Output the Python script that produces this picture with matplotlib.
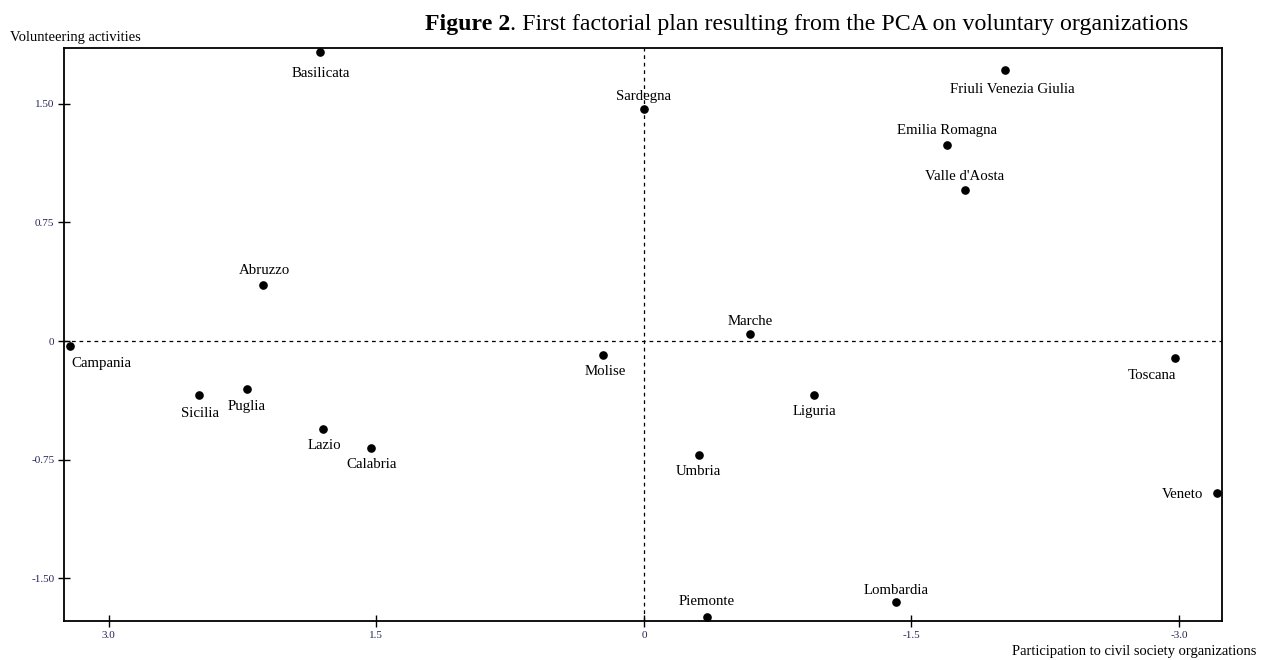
# -*- coding: utf-8 -*-
"""
First factorial plan of the PCA on voluntary organizations (Italian regions).
"""

# --IMPORTS---
import matplotlib
matplotlib.use('Agg')
import matplotlib.pyplot as plt

# --DATA---
regions = ['Basilicata', 'Sardegna', 'Friuli Venezia Giulia', 'Emilia Romagna',
           "Valle d'Aosta", 'Abruzzo', 'Marche', 'Campania', 'Molise', 'Toscana',
           'Sicilia', 'Puglia', 'Liguria', 'Lazio', 'Calabria', 'Umbria',
           'Veneto', 'Lombardia', 'Piemonte']
participation = [1.814, 0.000, -2.024, -1.698, -1.799, 2.133, -0.595, 3.220,
                 0.229, -2.980, 2.492, 2.223, -0.954, 1.797, 1.528, -0.309,
                 -3.211, -1.413, -0.354]
volunteering = [1.829, 1.469, 1.716, 1.241, 0.956, 0.355, 0.046, -0.030,
                -0.087, -0.106, -0.340, -0.302, -0.340, -0.555, -0.675,
                -0.720, -0.960, -1.650, -1.745]
x_ticks = [3.0, 1.5, 0.0, -1.5, -3.0]
x_tick_labels = ['3.0', '1.5', '0', '-1.5', '-3.0']
y_ticks = [1.5, 0.75, 0.0, -0.75, -1.5]
y_tick_labels = ['1.50', '0.75', '0', '-0.75', '-1.50']

# label placement in pixels: (dx, dy, ha), dy positive = up
LABEL_POS = {
    'Basilicata': (0, -22, 'center'),
    'Sardegna': (0, 12, 'center'),
    'Friuli Venezia Giulia': (7, -20, 'center'),
    'Emilia Romagna': (0, 14, 'center'),
    "Valle d'Aosta": (0, 13, 'center'),
    'Abruzzo': (1, 14, 'center'),
    'Marche': (0, 12, 'center'),
    'Campania': (2, -18, 'left'),
    'Molise': (2, -17, 'center'),
    'Toscana': (1, -18, 'right'),
    'Sicilia': (1, -19, 'center'),
    'Puglia': (-1, -18, 'center'),
    'Liguria': (0, -17, 'center'),
    'Lazio': (1, -17, 'center'),
    'Calabria': (0, -17, 'center'),
    'Umbria': (-1, -17, 'center'),
    'Veneto': (-13, -2, 'right'),
    'Lombardia': (0, 12, 'center'),
    'Piemonte': (0, 16, 'center'),
}

W, H, DPI = 1268, 660, 100
SERIF = 'Liberation Serif'
TICK_COLOR = '#23235a'


def px(v):
    """ Pixels to points. """
    return v * 72.0 / DPI


def main():
    fig = plt.figure(figsize=(W / DPI, H / DPI), dpi=DPI)
    ax = fig.add_axes([64 / W, 1 - 621 / H, (1222 - 64) / W, (621 - 48) / H])

    # Reference axes
    ax.axhline(0, color='black', lw=0.9, ls=(0, (3, 3)), zorder=1)
    ax.axvline(0, color='black', lw=0.9, ls=(0, (3, 3)), zorder=1)

    ax.plot(participation, volunteering, 'o', color='black', ms=5.2,
            zorder=3, clip_on=False)

    for name, x, y in zip(regions, participation, volunteering):
        dx, dy, ha = LABEL_POS[name]
        ax.annotate(name, xy=(x, y), xytext=(px(dx), px(dy)),
                    textcoords='offset points', ha=ha, va='center',
                    fontsize=10.7, family=SERIF, color='black')

    ax.set_xlim(3.251, -3.241)
    ax.set_ylim(-1.770, 1.853)
    ax.set_xticks(x_ticks)
    ax.set_xticklabels(x_tick_labels)
    ax.set_yticks(y_ticks)
    ax.set_yticklabels(y_tick_labels)
    ax.tick_params(direction='inout', length=8, width=1, colors='black',
                   labelcolor=TICK_COLOR, labelsize=8)
    ax.tick_params(axis='x', pad=3)
    ax.tick_params(axis='y', pad=3)
    for lbl in ax.get_xticklabels() + ax.get_yticklabels():
        lbl.set_family(SERIF)
    for side in ['top', 'bottom', 'left', 'right']:
        ax.spines[side].set_linewidth(1.3)

    # Axis titles
    fig.text(10 / W, 1 - 37 / H, 'Volunteering activities', family=SERIF,
             fontsize=10.5, ha='left', va='center')
    fig.text(1256 / W, 1 - 652 / H, 'Participation to civil society organizations',
             family=SERIF, fontsize=10.5, ha='right', va='center')

    # Title: bold lead-in followed by regular text
    t1 = fig.text(425 / W, 1 - 35 / H, 'Figure 2', family=SERIF, fontsize=17.2,
                  weight='bold', ha='left', va='bottom')
    ax.annotate('. First factorial plan resulting from the PCA on voluntary organizations',
                xy=(1, 0), xycoords=t1, ha='left', va='bottom',
                family=SERIF, fontsize=17.2, annotation_clip=False)

    fig.savefig('out.png', dpi=DPI)


# ---MAIN---
if __name__ == '__main__':
    main()
